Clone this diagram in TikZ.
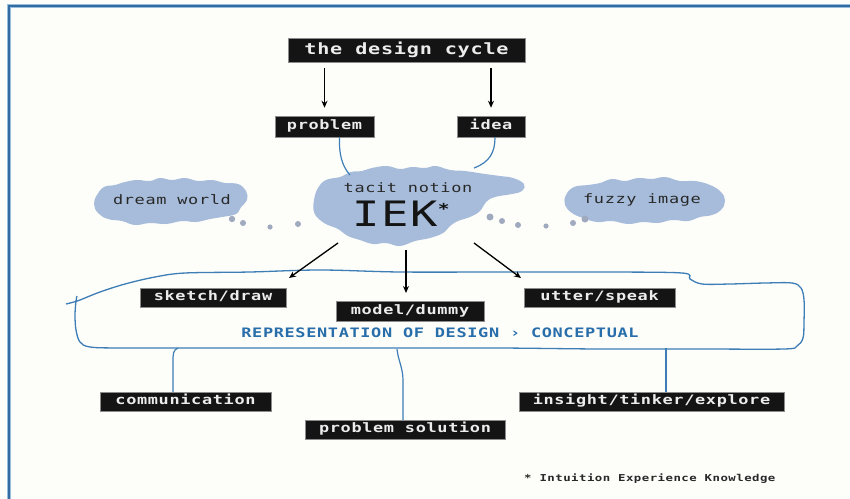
\documentclass[tikz,border=0pt]{standalone}
\usepackage{fontspec}
\usetikzlibrary{arrows.meta}
\newfontfamily\lblfont[FakeStretch=1.3,LetterSpace=5,BoldFont={DejaVu Sans Mono Bold}]{DejaVu Sans Mono}
\definecolor{cloudblue}{RGB}{166,188,218}
\definecolor{dotgray}{RGB}{160,170,190}
\definecolor{lineblue}{RGB}{62,126,182}
\definecolor{framedark}{RGB}{52,108,160}
\definecolor{framelight}{RGB}{150,190,225}
\definecolor{repblue}{RGB}{40,110,170}
\definecolor{bgcol}{RGB}{253,253,250}
\definecolor{boxfill}{RGB}{20,20,20}
\definecolor{boxedge}{RGB}{140,140,140}
\definecolor{boxtext}{RGB}{236,236,236}
\definecolor{darktext}{RGB}{40,40,40}
\begin{document}
\begin{tikzpicture}[x=1pt,y=-1pt,
  lbl/.style={fill=boxfill, draw=boxedge, line width=0.5pt, text=boxtext,
    font=\lblfont\bfseries\fontsize{13}{13}\selectfont, inner sep=0pt,
    minimum height=19pt, text height=9pt, text depth=2.5pt},
  titlebox/.style={lbl, font=\lblfont\bfseries\fontsize{15.5}{15.5}\selectfont,
    minimum height=24pt, text height=11pt, text depth=3pt},
  blk/.style={draw=black, line width=1.3pt, -{Stealth[length=7pt,width=6pt]}},
  blueline/.style={draw=lineblue, line width=1.2pt},
  cloudtxt/.style={text=darktext, font=\lblfont\fontsize{13}{13}\selectfont, inner sep=0pt},
]
% background and frame
\fill[bgcol] (0,0) rectangle (850,498);
\useasboundingbox (0,0) rectangle (850,498);
\draw[framelight, line width=3.6pt] (9,502) -- (9,6) -- (854,6);
\draw[framedark, line width=1.6pt] (9,502) -- (9,6) -- (854,6);

% clouds
\fill[cloudblue] plot[smooth cycle, tension=0.7] coordinates {
 (318,188) (326,180) (340,177) (351,172) (362,171) (372,168) (387,166) (400,169)
 (412,167) (425,168) (436,166) (450,170) (465,171) (485,174) (500,176) (513,178)
 (524,184) (522,191) (512,194) (495,197) (486,202) (480,211) (470,217) (458,221)
 (450,226) (443,233) (430,238) (415,241) (400,246) (386,243) (373,244) (360,240)
 (348,236) (338,229) (328,225) (320,220) (314,212) (314,200)};
\fill[cloudblue] plot[smooth cycle, tension=0.7] coordinates {
 (97,195) (104,187) (115,185) (125,182) (137,180) (150,181) (160,178) (172,180)
 (185,178) (198,181) (212,180) (225,183) (238,184) (246,191) (247,200) (241,207)
 (236,214) (222,217) (210,219) (196,222) (182,221) (166,224) (150,223) (135,225)
 (122,221) (108,219) (98,213) (94,204)};
\fill[cloudblue] plot[smooth cycle, tension=0.7] coordinates {
 (566,195) (574,187) (588,185) (600,183) (612,179) (625,181) (638,178) (652,179)
 (665,177) (680,181) (695,181) (710,185) (721,192) (725,201) (721,210) (712,215)
 (700,217) (688,221) (672,220) (658,223) (643,222) (628,224) (612,221) (597,222)
 (583,218) (572,213) (565,205)};

% thought dots
\foreach \px/\py/\r in {232/219/3.2, 243/223/3, 270/227/2.6, 298/224/3,
  490/217/3.5, 502/221/3, 518/225/3, 546/226/2.6, 573/223/3, 585/219/3.5}
  \fill[dotgray] (\px,\py) circle (\r);

% cloud texts
\node[cloudtxt] (dream) at (172,200) {dream world};
\node[cloudtxt] (fuzzy) at (642,200) {fuzzy image};
\node[cloudtxt] (tacit) at (408,188) {tacit notion};
\node[inner sep=0pt, text={rgb,255:red,20;green,20;blue,20}] (iek) at (401,214)
  {\lblfont\fontsize{35}{35}\selectfont IEK\raisebox{12pt}{\bfseries\fontsize{15}{15}\selectfont *}};

% top boxes
\node[titlebox, minimum width=237pt] (title) at (406.5,50) {the design cycle};
\node[lbl, minimum width=99pt, minimum height=21pt] (problem) at (324.5,126.5) {problem};
\node[lbl, minimum width=68pt, minimum height=21pt] (idea) at (491,126.5) {idea};

\draw[blk] ([yshift=-6pt]problem.north |- title.south) -- ([yshift=8pt]problem.north);
\draw[blk] ([yshift=-6pt]idea.north |- title.south) -- ([yshift=8pt]idea.north);

% blue links problem/idea -> cloud
\coordinate (cp) at (350,175);
\coordinate (ci) at (474,168);
\draw[blueline] ([xshift=15pt]problem.south) .. controls (339,152) and (341,165) .. (cp);
\draw[blueline] ([xshift=4pt]idea.south) .. controls (495,152) and (490,162) .. (ci);

% representation loop
\draw[lineblue, line width=1.3pt] plot[smooth, tension=0.55] coordinates {
 (66,304) (74,302) (80,300) (100,292) (125,284) (155,277) (185,273) (250,272)
 (320,270) (400,272) (500,272) (600,272) (682,273) (690,279) (702,284) (730,284)
 (765,283) (792,283) (801,288) (804,300) (804,322) (803,338) (797,346) (784,349)
 (700,349) (600,349) (500,348) (400,348) (300,348) (200,348) (120,348) (90,347)
 (80,342) (76,330) (75,315) (76,301) (77,296)};

% middle boxes
\node[lbl, minimum width=146pt] (sketch) at (213,297.5) {sketch/draw};
\node[lbl, minimum width=148pt, minimum height=20pt] (model) at (410,311) {model/dummy};
\node[lbl, minimum width=151pt] (utter) at (599.5,297.5) {utter/speak};
\node[text=repblue, inner sep=0pt, font=\lblfont\bfseries\fontsize{13}{13}\selectfont] (rep)
  at (440,333) {REPRESENTATION OF DESIGN › CONCEPTUAL};

% arrows from cloud
\coordinate (a1) at (338,243);
\coordinate (a2) at (406,250);
\coordinate (a3) at (474,243);
\coordinate (t1) at (289,278);
\coordinate (t2) at (406,293);
\coordinate (t3) at (521,278);
\draw[blk] (a1) -- (t1);
\draw[blk] (a2) -- (t2);
\draw[blk] (a3) -- (t3);

% bottom boxes
\node[lbl, minimum width=171pt] (comm) at (185.5,401.5) {communication};
\node[lbl, minimum width=200pt] (psol) at (405,429.5) {problem solution};
\node[lbl, minimum width=265pt] (insight) at (651.5,401.5) {insight/tinker/explore};

\coordinate (b1) at (178,348);
\coordinate (b2) at (397,349);
\coordinate (b3) at (666,348);
\draw[blueline] (b1) .. controls (173,350) and (173,354) .. (173,362) -- (comm.north -| 173,0);
\draw[blueline] (b2) .. controls (398,360) and (403,368) .. (403,380) -- (psol.north -| 403,0);
\draw[blueline] (b3) -- (insight.north -| b3);

% footnote
\node[anchor=west, inner sep=0pt, text=darktext, font=\lblfont\bfseries\fontsize{9.5}{9.5}\selectfont]
  (foot) at (524,479) {* Intuition Experience Knowledge};
\end{tikzpicture}
\end{document}
